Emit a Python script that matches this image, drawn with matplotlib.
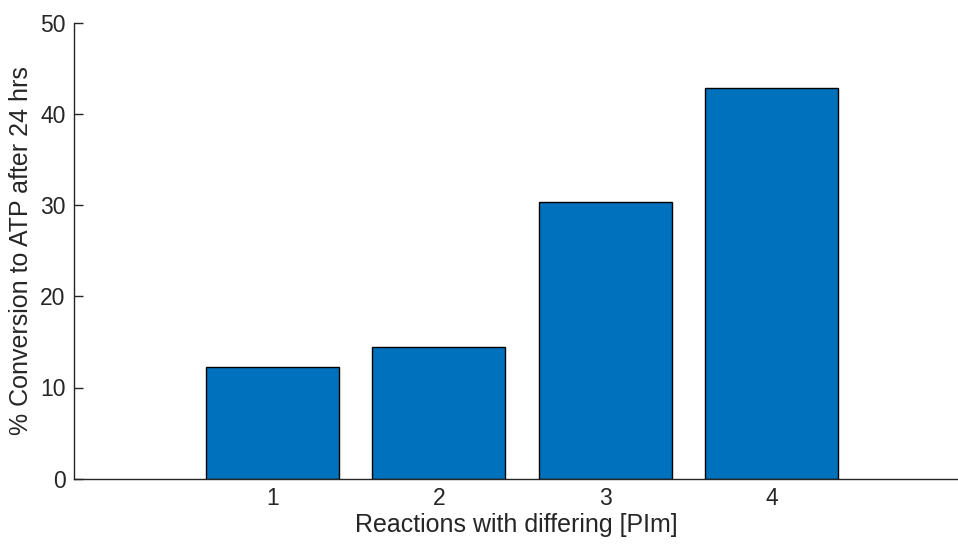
import numpy as np
import matplotlib.pyplot as plt

plt.rcParams['font.family'] = ['Liberation Sans', 'DejaVu Sans']

# Données
reactions = [1, 2, 3, 4]
conversion = [12.25, 14.47, 30.34, 42.84]

couleur_barre = '#0072BD'
gris = '#262626'
fs_ticks = 16.5
fs_text = 18

fig = plt.figure(figsize=(9.58, 5.49), dpi=100)
ax = fig.add_axes([74/958, 70.3/549, 884/958, 456/549])

ax.bar(reactions, conversion, width=0.8, color=couleur_barre,
       edgecolor='black', linewidth=1.0, zorder=2)

ax.set_xlim(-0.193, 5.12)
ax.set_ylim(0, 50)
ax.set_xticks(reactions)
ax.set_yticks(np.arange(0, 51, 10))

# style MATLAB : pas de boite, ticks vers l'intérieur
for s in ['top', 'right']:
    ax.spines[s].set_visible(False)
for s in ['left', 'bottom']:
    ax.spines[s].set_color(gris)
    ax.spines[s].set_linewidth(1.0)
    ax.spines[s].set_zorder(3)
ax.tick_params(direction='in', length=6.3, width=1.0, color=gris,
               labelcolor=gris, labelsize=fs_ticks, pad=6)

ax.set_xlabel("Reactions with differing [PIm]", fontsize=fs_text, color=gris, labelpad=2)
ax.set_ylabel("% Conversion to ATP after 24 hrs", fontsize=fs_text, color=gris, labelpad=5)

fig.savefig("out.png", dpi=100)
